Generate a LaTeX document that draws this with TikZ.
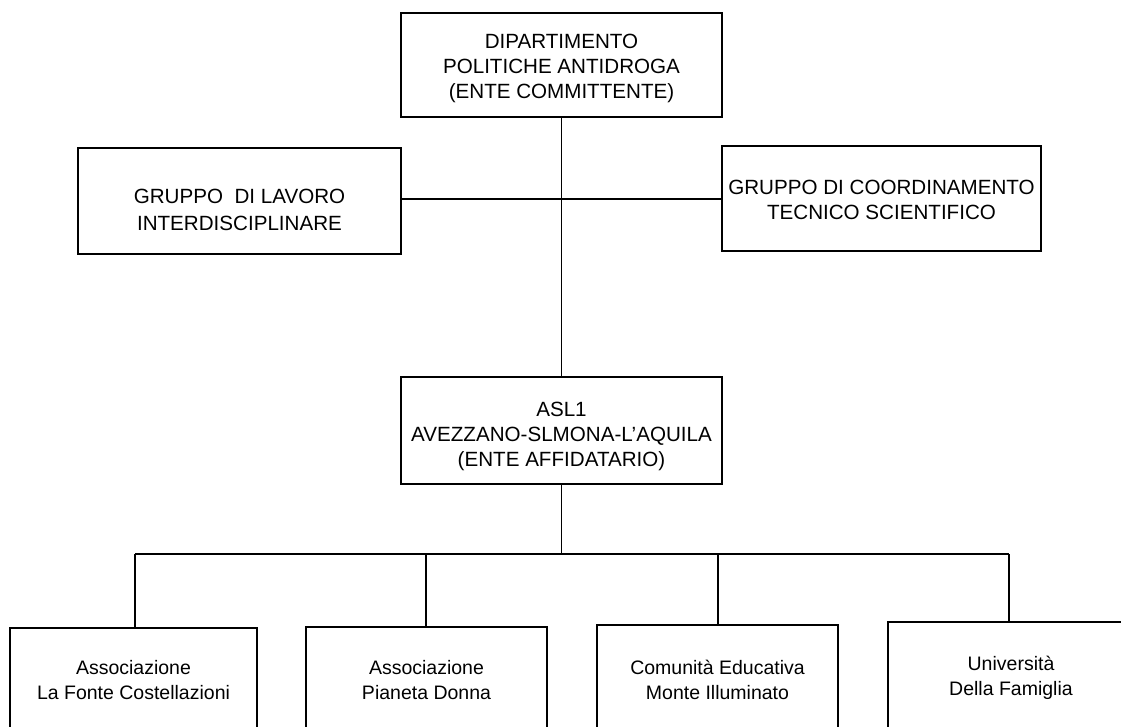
\documentclass[tikz,border=0pt]{standalone}
\usepackage{fontspec}
\setmainfont{Liberation Sans}
\begin{document}
\begin{tikzpicture}[x=1pt,y=-1pt,
  box/.style={draw=black,line width=1.2pt,inner sep=0pt,rectangle},
  lbl/.style={align=center,inner sep=0pt,font=\fontsize{20.6}{25}\selectfont},
  sub/.style={box,align=center,font=\fontsize{19.5}{25}\selectfont},
  conn/.style={line width=1.3pt}]
\useasboundingbox (0,0) rectangle (1121,726);
\clip (0,0) rectangle (1121,726);
% upper boxes
\node[box,minimum width=321pt,minimum height=104pt] (top) at (561.5,65) {};
\node[lbl] (topT) at (561.5,68) {DIPARTIMENTO\\POLITICHE ANTIDROGA\\(ENTE COMMITTENTE)};
\node[box,minimum width=323pt,minimum height=106pt] (left) at (239.5,201) {};
\node[lbl] (leftT) at (239.5,210) {GRUPPO\ \ DI LAVORO\\[2pt]INTERDISCIPLINARE};
\node[box,minimum width=319pt,minimum height=105pt] (right) at (881.5,198.5) {};
\node[lbl] (rightT) at (881.5,200) {GRUPPO DI COORDINAMENTO\\TECNICO SCIENTIFICO};
\node[box,minimum width=321pt,minimum height=107pt] (asl) at (561.5,430.5) {};
\node[lbl] (aslT) at (561.5,436) {ASL1\\AVEZZANO-SLMONA-L'AQUILA\\(ENTE AFFIDATARIO)};
% lower boxes
\node[sub,minimum width=247pt,minimum height=105pt] (b1) at (133.5,680.5) {Associazione\\La Fonte Costellazioni};
\node[sub,minimum width=241pt,minimum height=107pt] (b2) at (426.5,680.5) {Associazione\\Pianeta Donna};
\node[sub,minimum width=241pt,minimum height=110pt] (b3) at (717.5,680) {Comunità Educativa\\Monte Illuminato};
\node[sub,minimum width=246pt,minimum height=111pt] (b4) at (1011,677.5) {Università\\Della Famiglia};
% connectors
\coordinate (j) at (561.5,199);
\coordinate (bus) at (561.5,554);
\coordinate (d1) at (135,554);
\coordinate (d2) at (426,554);
\coordinate (d3) at (718,554);
\coordinate (d4) at (1009,554);
\draw[conn] (top.south) -- (asl.north);
\draw[conn] (left.east |- j) -- (right.west |- j);
\draw[conn] (asl.south) -- (bus);
\draw[conn] (d1) -- (d4);
\draw[conn] (d1) -- (d1 |- b1.north);
\draw[conn] (d2) -- (d2 |- b2.north);
\draw[conn] (d3) -- (d3 |- b3.north);
\draw[conn] (d4) -- (d4 |- b4.north);
\end{tikzpicture}
\end{document}
